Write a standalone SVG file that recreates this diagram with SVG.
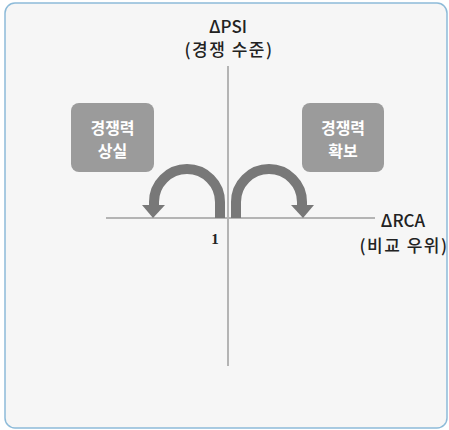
<svg xmlns="http://www.w3.org/2000/svg" width="449" height="430" viewBox="0 0 449 430">
<style>
.lbl{font-family:"Noto Sans CJK KR","Noto Sans",sans-serif;font-size:17px;font-weight:500;fill:#222;text-anchor:middle}
.ko{letter-spacing:1.5px}
.box{fill:#9b9b9b}
.btxt{font-family:"Noto Sans CJK KR",sans-serif;font-size:16px;font-weight:bold;fill:#fff;text-anchor:middle}
.axis{stroke:#b4b4b4;stroke-width:2;fill:none}
.arc{stroke:#787878;stroke-width:10;fill:none}
.head{fill:#787878}
</style>
<rect x="5" y="3" width="442" height="425" rx="10" fill="#f6f6f6" stroke="#8dbbd9" stroke-width="1.5"/>
<g id="connectors">
<line class="axis" x1="228" y1="66" x2="228" y2="366"/>
<line class="axis" x1="106" y1="218" x2="375" y2="218"/>
<path class="arc" d="M220 218 L220 202 A33 33 0 0 0 154 202 L154 207"/>
<polygon class="head" points="142,205 165,205 153,218"/>
<path class="arc" d="M236 218 L236 202 A33 33 0 0 1 302 202 L302 207"/>
<polygon class="head" points="291,205 314,205 303,218"/>
</g>
<g id="psi">
<text class="lbl" x="228" y="33">ΔPSI</text>
<text class="lbl ko" x="229" y="56">(경쟁 수준)</text>
</g>
<g id="rca">
<text class="lbl" x="403" y="227">ΔRCA</text>
<text class="lbl ko" x="404" y="252">(비교 우위)</text>
</g>
<g id="loss">
<rect class="box" x="71" y="103" width="83" height="69" rx="8"/>
<text class="btxt" x="112.5" y="134">경쟁력</text>
<text class="btxt" x="112.5" y="157">상실</text>
</g>
<g id="gain">
<rect class="box" x="302" y="103" width="82" height="69" rx="8"/>
<text class="btxt" x="343" y="134">경쟁력</text>
<text class="btxt" x="343" y="157">확보</text>
</g>
<g id="one">
<text x="215" y="244" font-family="Liberation Serif,serif" font-weight="bold" font-size="15" fill="#222" text-anchor="middle">1</text>
</g>
</svg>
